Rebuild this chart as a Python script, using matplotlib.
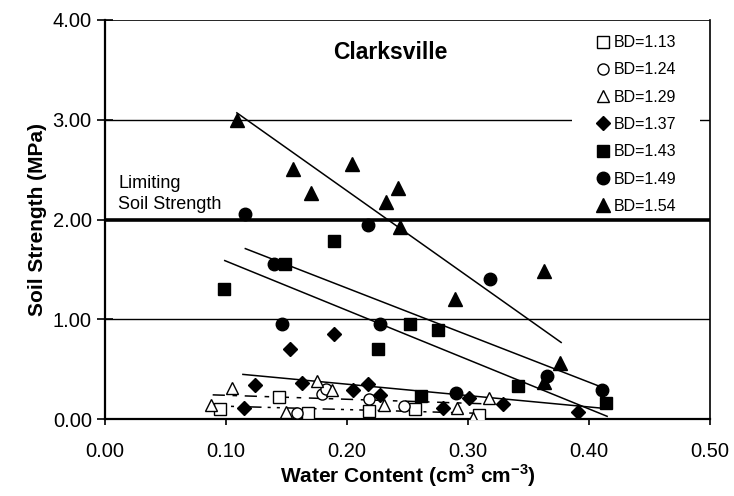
import matplotlib
matplotlib.use('Agg')
import matplotlib.pyplot as plt
from matplotlib.patches import Rectangle

plt.rcParams['font.family'] = ['Liberation Sans', 'DejaVu Sans']
plt.rcParams['mathtext.fontset'] = 'custom'
plt.rcParams['mathtext.rm'] = 'Liberation Sans'
plt.rcParams['mathtext.bf'] = 'Liberation Sans:bold'

# water content (x) and soil strength (y) per bulk density
bd_labels = ['BD=1.13', 'BD=1.24', 'BD=1.29', 'BD=1.37', 'BD=1.43', 'BD=1.49', 'BD=1.54']

x_113 = [0.095, 0.144, 0.168, 0.218, 0.256, 0.309]
y_113 = [0.10, 0.22, 0.06, 0.08, 0.10, 0.04]

x_124 = [0.159, 0.179, 0.183, 0.218, 0.247]
y_124 = [0.06, 0.25, 0.30, 0.20, 0.13]

x_129 = [0.088, 0.105, 0.150, 0.175, 0.188, 0.231, 0.291, 0.304, 0.317]
y_129 = [0.14, 0.31, 0.07, 0.38, 0.29, 0.14, 0.11, 0.01, 0.21]

x_137 = [0.115, 0.124, 0.153, 0.163, 0.189, 0.205, 0.217, 0.227, 0.279, 0.301, 0.329, 0.391]
y_137 = [0.11, 0.34, 0.70, 0.36, 0.855, 0.29, 0.35, 0.24, 0.11, 0.21, 0.15, 0.07]

x_143 = [0.098, 0.149, 0.189, 0.226, 0.252, 0.261, 0.275, 0.341, 0.414]
y_143 = [1.31, 1.56, 1.79, 0.70, 0.95, 0.23, 0.895, 0.33, 0.16]

x_149 = [0.116, 0.140, 0.146, 0.217, 0.227, 0.290, 0.318, 0.365, 0.411]
y_149 = [2.06, 1.56, 0.955, 1.95, 0.955, 0.26, 1.41, 0.43, 0.29]

x_154 = [0.109, 0.155, 0.170, 0.204, 0.232, 0.242, 0.244, 0.289, 0.363, 0.363, 0.376]
y_154 = [3.00, 2.51, 2.27, 2.56, 2.18, 2.32, 1.93, 1.21, 1.49, 0.37, 0.56]

# fitted trend lines: start and end points
fit_x = {'BD=1.13': [0.089, 0.310], 'BD=1.29': [0.089, 0.315], 'BD=1.37': [0.114, 0.412],
         'BD=1.43': [0.116, 0.411], 'BD=1.49': [0.099, 0.415], 'BD=1.54': [0.109, 0.377]}
fit_y = {'BD=1.13': [0.135, 0.06], 'BD=1.29': [0.245, 0.155], 'BD=1.37': [0.45, 0.11],
         'BD=1.43': [1.71, 0.32], 'BD=1.49': [1.59, 0.03], 'BD=1.54': [3.07, 0.77]}

limit_strength = 2.0
xticks = [0.0, 0.1, 0.2, 0.3, 0.4, 0.5]
yticks = [0.0, 1.0, 2.0, 3.0, 4.0]

fig = plt.figure(figsize=(7.34, 4.96), dpi=100)
ax = fig.add_axes([0.1430, 0.1546, 0.8243, 0.8051])

ax.axhline(1.0, color='black', lw=1.0, zorder=1)
ax.axhline(3.0, color='black', lw=1.0, zorder=1)
ax.axhline(4.0, color='black', lw=1.2, zorder=1)
ax.axhline(limit_strength, color='black', lw=2.6, zorder=1)

# white area behind the legend hides the 3.00 line there
ax.add_patch(Rectangle((0.772, 0.52), 0.211, 0.46, transform=ax.transAxes,
                       facecolor='white', edgecolor='none', zorder=1.5))

styles = {
    'BD=1.13': dict(marker='s', mfc='white', ms=8),
    'BD=1.24': dict(marker='o', mfc='white', ms=8),
    'BD=1.29': dict(marker='^', mfc='white', ms=9),
    'BD=1.37': dict(marker='D', mfc='black', ms=7),
    'BD=1.43': dict(marker='s', mfc='black', ms=8.5),
    'BD=1.49': dict(marker='o', mfc='black', ms=9),
    'BD=1.54': dict(marker='^', mfc='black', ms=10),
}
xs = [x_113, x_124, x_129, x_137, x_143, x_149, x_154]
ys = [y_113, y_124, y_129, y_137, y_143, y_149, y_154]

handles = []
for lab, xv, yv in zip(bd_labels, xs, ys):
    st = styles[lab]
    h, = ax.plot(xv, yv, ls='none', marker=st['marker'], mfc=st['mfc'], mec='black',
                 mew=1.0, ms=st['ms'], label=lab, zorder=3)
    handles.append(h)

fit_ls = {'BD=1.13': (0, (8, 4, 2, 4, 2, 4)), 'BD=1.29': (0, (8, 5, 3, 5)),
          'BD=1.37': '-', 'BD=1.43': '-', 'BD=1.49': '-', 'BD=1.54': '-'}
for lab in fit_x:
    ax.plot(fit_x[lab], fit_y[lab], color='black', lw=1.1, ls=fit_ls[lab], zorder=2)

ax.set_xlim(0, 0.5)
ax.set_ylim(0, 4)
ax.set_xticks(xticks)
ax.set_yticks(yticks)
ax.set_xticklabels(['%.2f' % v for v in xticks])
ax.set_yticklabels(['%.2f' % v for v in yticks])
ax.tick_params(axis='x', direction='out', length=4, width=1.2, labelsize=14.5, pad=12.5)
ax.tick_params(axis='y', direction='inout', length=11, width=1.2, labelsize=14.5, pad=4)
ax.spines['left'].set_linewidth(1.6)
ax.spines['bottom'].set_linewidth(1.6)
ax.spines['right'].set_linewidth(1.2)
ax.spines['top'].set_visible(False)

ax.set_xlabel('Water Content (cm$^{\\mathbf{3}}$ cm$^{\\mathbf{-3}}$)', fontsize=15,
              fontweight='bold', labelpad=1)
ax.set_ylabel('Soil Strength (MPa)', fontsize=15, fontweight='bold', labelpad=4)

ax.text(0.236, 3.67, 'Clarksville', fontsize=16.5, fontweight='bold', ha='center', va='center')
ax.text(0.011, 2.36, 'Limiting', fontsize=13, ha='left', va='center')
ax.text(0.011, 2.15, 'Soil Strength', fontsize=13, ha='left', va='center')

leg = ax.legend(handles=handles, loc='upper left', bbox_to_anchor=(0.792, 0.99),
                fontsize=11.5, frameon=False, handlelength=1.0, handletextpad=0.15,
                labelspacing=0.77, borderpad=0.2)
leg.set_zorder(5)

fig.savefig('out.png', dpi=100)
